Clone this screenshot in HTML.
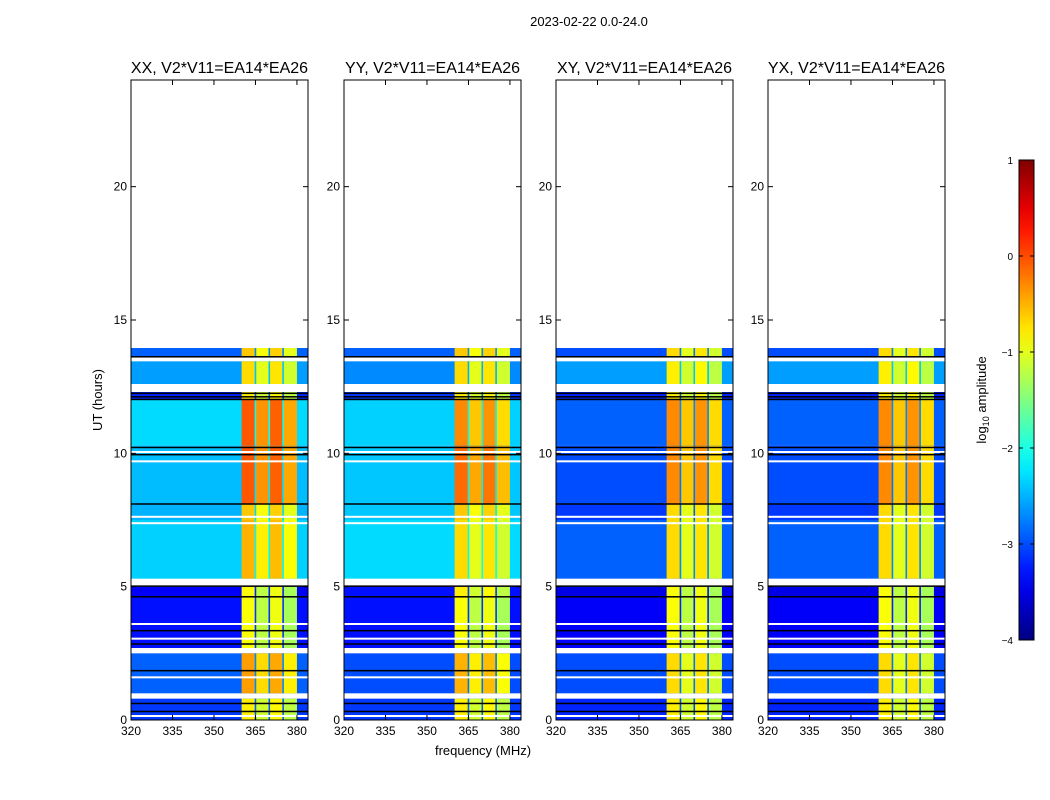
<!DOCTYPE html>
<html><head><meta charset="utf-8">
<style>
html,body{margin:0;padding:0;background:#fff;}
svg{display:block;font-family:"Liberation Sans",sans-serif;}
</style></head>
<body>
<svg id="fig" width="1050" height="800" viewBox="0 0 1050 800" xmlns="http://www.w3.org/2000/svg">
<rect width="1050" height="800" fill="#fff"/>
<text x="589" y="26" font-size="13" text-anchor="middle">2023-02-22 0.0-24.0</text>
<text x="483" y="755" font-size="13" text-anchor="middle">frequency (MHz)</text>
<text transform="translate(102,400) rotate(-90)" font-size="13" text-anchor="middle">UT (hours)</text>
<g id="panels"></g>
<g id="cbar"></g>
<text transform="translate(986,400) rotate(-90)" font-size="13" text-anchor="middle">log<tspan font-size="9" dy="3">10</tspan><tspan dy="-3"> amplitude</tspan></text>
</svg>
<script>
// ---- data ----
const panelNames = ["XX","YY","XY","YX"];
const segStart = [13.6,12.6,12.0,10.3,8.1,7.5,5.3,4.6,2.7,1.0,0.0];
const segEnd   = [13.95,13.45,12.3,12.0,10.3,8.1,7.5,5.0,4.6,2.5,0.8];
const bgXX = [-2.9,-2.6,-3.2,-2.3,-2.45,-2.5,-2.35,-3.4,-3.3,-2.9,-3.1];
const bgYY = [-2.9,-2.7,-3.1,-2.35,-2.4,-2.4,-2.3,-3.3,-3.3,-3.0,-3.1];
const bgXY = [-3.0,-2.6,-3.2,-2.9,-3.0,-3.1,-2.9,-3.5,-3.4,-3.0,-3.2];
const bgYX = [-3.0,-2.6,-3.2,-2.9,-3.0,-3.1,-2.9,-3.5,-3.4,-3.0,-3.2];
const bandXX = [-0.7,-0.8,-0.9,-0.15,-0.15,-0.7,-0.6,-1.0,-1.0,-0.5,-0.9];
const bandYY = [-0.7,-0.8,-0.9,-0.4,-0.25,-0.7,-0.8,-0.9,-1.0,-0.6,-0.9];
const bandXY = [-0.8,-0.9,-0.9,-0.4,-0.4,-0.8,-0.8,-1.0,-1.0,-0.8,-0.9];
const bandYX = [-0.8,-0.9,-0.9,-0.4,-0.4,-0.8,-0.8,-1.0,-1.0,-0.8,-0.9];
const subStart = [360,365,370,375];
const subEnd   = [365,370,375,380];
const subOffset = [0.1,-0.2,0.05,-0.3];
const dipFreqs = [365,370,375];
const blackLines = [13.62,12.25,12.12,12.02,10.22,9.95,8.1,5.02,4.62,3.35,2.85,1.85,0.62,0.32];
const whiteLines = [10.05,9.7,7.62,7.38,5.18,3.6,3.05,1.6,0.15];
const yTicks = [0,5,10,15,20];
const xTicks = [320,335,350,365,380];
const cbTicks = [1,0,-1,-2,-3,-4];
const bgs = [bgXX,bgYY,bgXY,bgYX];
const bands = [bandXX,bandYY,bandXY,bandYX];
// ---- layout ----
const panelX = [131,344,556,768];
const PW = 177, PT = 80, PB = 720;
const fMin = 320, fMax = 384, tMin = 0, tMax = 24;
const NS = "http://www.w3.org/2000/svg";
function jet(v){
  let t = Math.max(0,Math.min(1,(v+4)/5));
  const c = x=>Math.round(255*Math.max(0,Math.min(1,x)));
  return `rgb(${c(1.5-Math.abs(4*t-3))},${c(1.5-Math.abs(4*t-2))},${c(1.5-Math.abs(4*t-1))})`;
}
function el(tag, attrs, parent){const e=document.createElementNS(NS,tag);for(const k in attrs)e.setAttribute(k,attrs[k]);parent.appendChild(e);return e;}
const root = document.getElementById("panels");
panelNames.forEach((name,p)=>{
  const x0 = panelX[p];
  const xs = f => x0 + (f-fMin)/(fMax-fMin)*PW;
  const ys = h => PB - (h-tMin)/(tMax-tMin)*(PB-PT);
  const g = el("g",{},root);
  
  
  segStart.forEach((s,i)=>{
    const y1 = ys(segEnd[i]), y2 = ys(s);
    const r = el("rect",{x:xs(fMin),y:y1,width:xs(fMax)-xs(fMin),height:y2-y1,fill:jet(bgs[p][i])},g);
    
    
    subStart.forEach((fs,k)=>{
      const b = el("rect",{x:xs(fs),y:y1,width:xs(subEnd[k])-xs(fs),height:y2-y1,fill:jet(bands[p][i]+subOffset[k])},g);
      
      
    });
    dipFreqs.forEach(f=>{
      const d = el("rect",{x:xs(f)-0.8,y:y1,width:1.6,height:y2-y1,fill:jet(bgs[p][i]+0.2)},g);
      
      
    });
  });
  whiteLines.forEach(h=>{
    const l = el("rect",{x:x0,y:ys(h)-1,width:PW,height:2,fill:"#fff"},g);
    
    
  });
  blackLines.forEach(h=>{
    const l = el("rect",{x:x0,y:ys(h)-0.75,width:PW,height:1.5,fill:"#000"},g);
    
    
  });
  const fr = el("rect",{x:x0,y:PT,width:PW,height:PB-PT,fill:"none",stroke:"#000","stroke-width":1},g);
  
  
  const tt = el("text",{x:x0+PW/2,y:73,"font-size":16,"text-anchor":"middle"},g);
  tt.textContent = name+", V2*V11=EA14*EA26";
  
  
  yTicks.forEach(v=>{
    const y = ys(v);
    el("line",{x1:x0,x2:x0+5,y1:y,y2:y,stroke:"#000"},g);
    el("line",{x1:x0+PW-5,x2:x0+PW,y1:y,y2:y,stroke:"#000"},g);
    const t = el("text",{x:x0-4,y:y+4,"font-size":12,"text-anchor":"end"},g);
    t.textContent = v;
    
    
  });
  xTicks.forEach(v=>{
    const x = xs(v);
    el("line",{x1:x,x2:x,y1:PB,y2:PB-5,stroke:"#000"},g);
    el("line",{x1:x,x2:x,y1:PT,y2:PT+5,stroke:"#000"},g);
    const t = el("text",{x:x,y:PB+15,"font-size":12,"text-anchor":"middle"},g);
    t.textContent = v;
    
    
  });
});
// colorbar
const cb = document.getElementById("cbar");
const cbX=1019, cbW=15, cbT=160, cbB=640;
const grad = el("linearGradient",{id:"jetg",x1:0,y1:1,x2:0,y2:0},el("defs",{},cb));
for(let i=0;i<=20;i++){el("stop",{offset:i/20,"stop-color":jet(-4+5*i/20)},grad);}
el("rect",{x:cbX,y:cbT,width:cbW,height:cbB-cbT,fill:"url(#jetg)",stroke:"#000"},cb);
const cys = v => cbB - (v+4)/5*(cbB-cbT);
cbTicks.forEach(v=>{
  const y = cys(v);
  el("line",{x1:cbX,x2:cbX+4,y1:y,y2:y,stroke:"#000"},cb);
  el("line",{x1:cbX+cbW-4,x2:cbX+cbW,y1:y,y2:y,stroke:"#000"},cb);
  const t = el("text",{x:1013,y:y+4,"font-size":10,"text-anchor":"end"},cb);
  t.textContent = v<0 ? "\u2212"+(-v) : v;
  
  
});
</script>
</body></html>
